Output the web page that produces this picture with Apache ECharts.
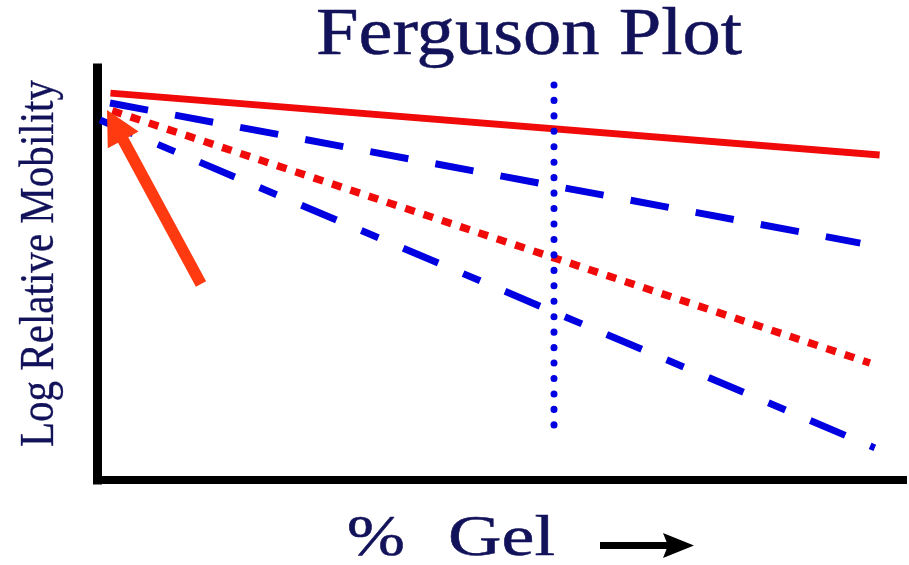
<!DOCTYPE html>
<html><head><meta charset="utf-8">
<script src="https://cdn.jsdelivr.net/npm/echarts@6/dist/echarts.min.js"></script>
<style>html,body{margin:0;padding:0;background:#fff}#c{width:909px;height:565px}</style>
</head><body><div id="c"></div>
<script>
// ---- data ----
const titleText = 'Ferguson Plot';
const yAxisLabel = 'Log Relative Mobility';
const xAxisLabelParts = ['%', 'Gel'];
const xRange = [0, 100];
const yRange = [0, 100];
const bandA = [[1.67, 93.9], [97.1, 78.9]];   // red solid
const bandB = [[1.61, 91.5], [94.7, 57.5]];   // blue dashed
const bandC = [[1.61, 89.8], [95.9, 28.4]];   // red dotted
const bandD = [[0.37, 87.4], [96.5, 7.8]];    // blue dash-dot
const gelMarker = [[56.7, 95.9], [56.7, 13.1]]; // vertical dotted
const arrowTail = [12.9, 47.6];
const arrowTip = [1.24, 89.8];

const navy = '#12125a';
const serif = '"Liberation Serif", "Times New Roman", serif';

const chart = echarts.init(document.getElementById('c'), null, {renderer: 'canvas'});
chart.setOption({
  backgroundColor: '#fff',
  animation: false,
  grid: {left: 97, right: 6, top: 68, bottom: 85},
  xAxis: {
    type: 'value', min: xRange[0], max: xRange[1],
    axisLine: {show: true, lineStyle: {color: '#000', width: 8, cap: 'square'}},
    axisTick: {show: false}, axisLabel: {show: false}, splitLine: {show: false}
  },
  yAxis: {
    type: 'value', min: yRange[0], max: yRange[1],
    axisLine: {show: true, lineStyle: {color: '#000', width: 9, cap: 'square'}},
    axisTick: {show: false}, axisLabel: {show: false}, splitLine: {show: false}
  },
  graphic: [
    {type: 'text', x: 529, y: 36, scaleX: 1.126, style: {text: titleText, font: '68px ' + serif, fill: navy, stroke: navy, lineWidth: 0.5, align: 'center', verticalAlign: 'middle'}},
    {type: 'text', x: 40, y: 263.5, rotation: Math.PI / 2, scaleX: 0.855, style: {text: yAxisLabel, font: '48px ' + serif, fill: navy, stroke: navy, lineWidth: 0.3, align: 'center', verticalAlign: 'middle'}},
    {type: 'text', x: 376, y: 540, scaleX: 1.22, style: {text: xAxisLabelParts[0], font: '57px ' + serif, fill: navy, stroke: navy, lineWidth: 0.5, align: 'center', verticalAlign: 'middle'}},
    {type: 'text', x: 448, y: 540, scaleX: 1.3, style: {text: xAxisLabelParts[1], font: '57px ' + serif, fill: navy, stroke: navy, lineWidth: 0.5, align: 'left', verticalAlign: 'middle'}},
    {type: 'line', shape: {x1: 600, y1: 545.5, x2: 670, y2: 545.5}, style: {stroke: '#000', lineWidth: 7}},
    {type: 'polygon', shape: {points: [[663, 533], [694, 545.5], [663, 558], [668, 545.5]]}, style: {fill: '#000'}}
  ],
  series: [
    {type: 'line', data: bandA, showSymbol: false, z: 3,
     lineStyle: {color: '#f00a0a', width: 7}},
    {type: 'line', data: bandB, showSymbol: false, z: 3,
     lineStyle: {color: '#0000e0', width: 7, type: [38.7, 27.5], dashOffset: 0}},
    {type: 'line', data: bandC, showSymbol: false, z: 3,
     lineStyle: {color: '#f00a0a', width: 7.5, type: [10, 9.3], dashOffset: 16.9}},
    {type: 'line', data: bandD, showSymbol: false, z: 3,
     lineStyle: {color: '#0000e0', width: 7, type: [38, 27, 18.5, 27], dashOffset: 2.2}},
    {type: 'line', data: gelMarker, showSymbol: false, z: 3,
     lineStyle: {color: '#0000e0', width: 7, type: [0.1, 15.35], cap: 'round'}},
    {type: 'custom', z: 5, clip: false,
     data: [[arrowTail[0], arrowTail[1], arrowTip[0], arrowTip[1]]],
     encode: {x: [0, 2], y: [1, 3]},
     renderItem: function (params, api) {
       const t = api.coord([api.value(0), api.value(1)]);
       const h = api.coord([api.value(2), api.value(3)]);
       const dx = h[0] - t[0], dy = h[1] - t[1];
       const L = Math.hypot(dx, dy);
       const ux = dx / L, uy = dy / L, px = -uy, py = ux;
       const hw = 5.8, headW = 17.5, headL = 34;
       const bx = h[0] - ux * headL, by = h[1] - uy * headL;
       const pts = [
         [t[0] + px * hw, t[1] + py * hw], [bx + px * hw, by + py * hw],
         [bx + px * headW, by + py * headW], [h[0], h[1]],
         [bx - px * headW, by - py * headW], [bx - px * hw, by - py * hw],
         [t[0] - px * hw, t[1] - py * hw]
       ];
       return {type: 'polygon', shape: {points: pts}, style: {fill: '#ff3a10'}};
     }}
  ]
});
</script></body></html>
